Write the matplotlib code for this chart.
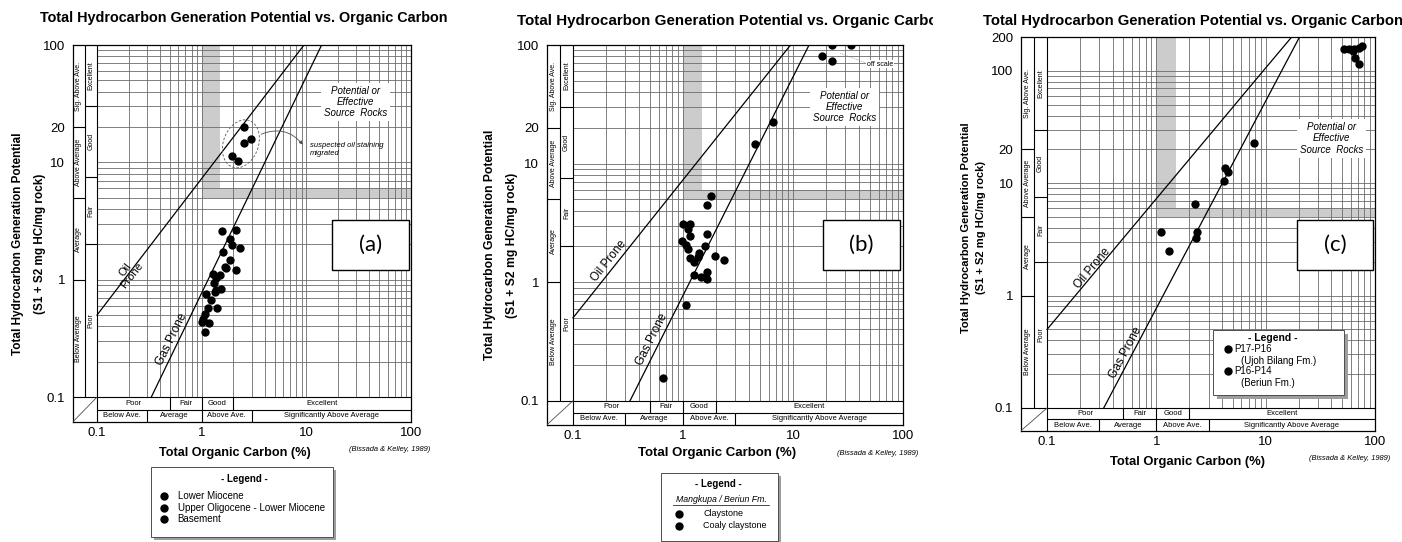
import matplotlib
matplotlib.use("Agg")
import matplotlib.pyplot as plt
import numpy as np
from matplotlib.patches import Rectangle
from matplotlib.lines import Line2D
from matplotlib.transforms import Bbox, TransformedBbox

plt.rcParams['font.family'] = ['Liberation Sans', 'DejaVu Sans']

W, H = 1402, 542

# --- data (TOC %, S1+S2 mg HC/g rock) ---
toc_a = [2.52, 2.52, 2.94, 1.95, 2.21,
         1.58, 2.14, 1.85, 1.96, 2.31, 1.60, 1.85, 1.67, 2.14, 1.28, 1.49, 1.38,
         1.30, 1.53, 1.33, 1.09, 1.24, 1.40, 1.15, 1.07, 1.03, 1.17, 1.01, 1.07,
         1.72, 1.38]
hc_a = [20.2, 14.7, 15.7, 11.3, 10.3,
        2.58, 2.63, 2.22, 1.99, 1.85, 1.74, 1.48, 1.29, 1.20, 1.11, 1.10, 1.03,
        0.93, 0.84, 0.79, 0.76, 0.67, 0.57, 0.57, 0.51, 0.46, 0.43, 0.44, 0.36,
        1.27, 0.82]

toc_b = [1.81, 1.67, 1.00, 1.16, 1.12, 1.17, 1.64, 0.97, 1.06, 1.12, 1.57,
         1.41, 1.16, 1.37, 1.25, 1.94, 2.38, 1.25, 1.46, 1.64, 1.65, 1.06, 0.66,
         18.5, 22.4, 22.7, 33.5, 6.6, 4.5]
hc_b = [5.37, 4.48, 3.09, 3.09, 2.80, 2.43, 2.54, 2.22, 2.05, 1.92, 2.02,
        1.75, 1.60, 1.63, 1.48, 1.65, 1.54, 1.14, 1.10, 1.22, 1.06, 0.64, 0.155,
        80, 72.8, 100, 100, 22.5, 14.5]

toc_c = [7.9, 4.22, 4.53, 4.19, 2.26, 1.11, 2.34, 2.29, 1.30,
         51.8, 57.7, 64.1, 71.3, 76.0, 62.8, 65.5, 71.8]
hc_c = [22.8, 13.6, 12.6, 10.5, 6.57, 3.7, 3.7, 3.28, 2.48,
        155, 158, 155, 160, 165, 151, 129, 114]

# boundary lines of the Bissada & Kelley (1989) diagram
oil_toc = [0.1, 9.5, 17.3]
oil_hc = [0.5, 100, 200]
gas_toc = [0.33, 14, 20.4]
gas_hc = [0.1, 100, 200]

# classification strips
hc_outer_labels = ['Below Average', 'Average', 'Above Average', 'Sig. Above Ave.']
hc_outer_bounds = [0.1, 1, 5, 20]
hc_inner_labels = ['Poor', 'Fair', 'Good', 'Excellent']
hc_inner_bounds = [0.1, 2, 7.5, 30]
toc_top_labels = ['Poor', 'Fair', 'Good', 'Excellent']
toc_top_bounds = [0.1, 0.5, 1, 2]
toc_bot_labels = ['Below Ave.', 'Average', 'Above Ave.', 'Significantly Above Average']
toc_bot_bounds = [0.1, 0.3, 1, 3]

TITLE = 'Total Hydrocarbon Generation Potential vs. Organic Carbon'


def fx(x):
    return x / W


def fy(y):
    return 1 - y / H


fig = plt.figure(figsize=(W / 100, H / 100), dpi=100)


def make_ax(l, t, r, b):
    return fig.add_axes([fx(l), fy(b), (r - l) / W, (b - t) / H])


def draw_panel(ax, xl, yb, ytop, toc, hc, yticks):
    ax.set_xscale('log')
    ax.set_yscale('log')
    ax.set_xlim(xl, 100)
    ax.set_ylim(yb, ytop)
    xm = np.sqrt(xl * 0.1)
    ym = np.sqrt(yb * 0.1)

    # log grid inside the data area
    gx = [m * 10.0 ** e for e in (-1, 0, 1) for m in range(1, 10)] + [100]
    gy = [m * 10.0 ** e for e in (-1, 0, 1, 2) for m in range(1, 10)
          if m * 10.0 ** e <= ytop * 1.001]
    ax.vlines(gx, 0.1, ytop, color='0.42', lw=0.6, zorder=2)
    ax.hlines(gy, 0.1, 100, color='0.42', lw=0.6, zorder=2)

    # shaded threshold bands
    ax.fill_between([1, 1.5], 5, ytop, color='0.8', lw=0, zorder=1)
    ax.fill_between([1, 100], 5, 6, color='0.8', lw=0, zorder=1)

    k = dict(color='black', lw=0.8, zorder=3, solid_capstyle='butt')
    ax.plot([0.1, 0.1], [yb, ytop], **k)
    ax.plot([xl, 100], [0.1, 0.1], **k)
    ax.plot([xm, xm], [0.1, ytop], **k)
    ax.plot([0.1, 100], [ym, ym], **k)
    ax.plot([xl, 0.1], [yb, 0.1], color='0.3', lw=0.6, zorder=3)

    fs = 5
    b = hc_outer_bounds + [ytop]
    for i, lab in enumerate(hc_outer_labels):
        if i:
            ax.plot([xl, xm], [b[i], b[i]], **k)
        ax.text(np.sqrt(xl * xm), np.sqrt(b[i] * b[i + 1]), lab, rotation=90,
                ha='center', va='center', fontsize=fs)
    b = hc_inner_bounds + [ytop]
    for i, lab in enumerate(hc_inner_labels):
        if i:
            ax.plot([xm, 0.1], [b[i], b[i]], **k)
        ax.text(np.sqrt(xm * 0.1), np.sqrt(b[i] * b[i + 1]), lab, rotation=90,
                ha='center', va='center', fontsize=fs)
    b = toc_top_bounds + [100]
    for i, lab in enumerate(toc_top_labels):
        if i:
            ax.plot([b[i], b[i]], [ym, 0.1], **k)
        ax.text(np.sqrt(b[i] * b[i + 1]), np.sqrt(ym * 0.1), lab,
                ha='center', va='center', fontsize=5.5)
    b = toc_bot_bounds + [100]
    for i, lab in enumerate(toc_bot_labels):
        if i:
            ax.plot([b[i], b[i]], [yb, ym], **k)
        ax.text(np.sqrt(b[i] * b[i + 1]), np.sqrt(ym * yb), lab,
                ha='center', va='center', fontsize=5.5)

    ax.plot(oil_toc, oil_hc, color='black', lw=0.9, zorder=4)
    ax.plot(gas_toc, gas_hc, color='black', lw=0.9, zorder=4)
    ax.scatter(toc, hc, s=36, color='black', linewidths=0, zorder=6)

    ax.set_xticks([0.1, 1, 10, 100], ['0.1', '1', '10', '100'])
    ax.set_yticks(yticks, [('%g' % v) for v in yticks])
    ax.minorticks_off()
    ax.tick_params(axis='both', length=0, labelsize=9.5)
    ax.tick_params(axis='x', pad=3.5)
    ax.tick_params(axis='y', pad=5.5)
    for s in ax.spines.values():
        s.set_linewidth(0.9)


src_kw = dict(ha='center', va='center', fontsize=7, style='italic', linespacing=1.15,
              bbox=dict(fc='white', ec='none', pad=2), zorder=5)

# ---------------- panel (a) ----------------
ax_a = make_ax(72.7, 45, 411, 422)
draw_panel(ax_a, 0.0586, 0.0614, 100, toc_a, hc_a, [0.1, 1, 10, 20, 100])
ax_a.text(0.2, 1.15, 'Oil\nProne', rotation=52, ha='center', va='center', fontsize=8,
          linespacing=0.9, zorder=5)
ax_a.text(0.52, 0.31, 'Gas Prone', rotation=64, ha='center', va='center', fontsize=8.5,
          zorder=5)
ax_a.text(29.4, 32.6, 'Potential or\nEffective\nSource  Rocks', **src_kw)
t = np.linspace(0, 2 * np.pi, 120)
u, v = 17.5 * np.cos(t), 24.7 * np.sin(t)
th = np.radians(-20)
ax_a.plot(10 ** (np.log10(2.37) + (u * np.cos(th) - v * np.sin(th)) / 104.7),
          10 ** (np.log10(14.4) + (u * np.sin(th) + v * np.cos(th)) / 117.3),
          color='0.35', lw=0.6, ls=(0, (3, 2)), zorder=5)
ax_a.annotate('', xy=(9.6, 13.6), xytext=(3.5, 17),
              arrowprops=dict(arrowstyle='-|>', lw=0.6, color='0.3', mutation_scale=5,
                              connectionstyle='arc3,rad=-0.4'), zorder=5)
ax_a.text(10.8, 12.8, 'suspected oil staining\nmigrated', ha='left', va='center',
          fontsize=5.5, style='italic', linespacing=1.25, zorder=5)

# ---------------- panel (b) ----------------
ax_b = make_ax(546.7, 45, 903, 425)
draw_panel(ax_b, 0.0577, 0.0625, 100, toc_b, hc_b, [0.1, 1, 10, 20, 100])
ax_b.text(0.21, 1.5, 'Oil Prone', rotation=51.5, ha='center', va='center', fontsize=8.5,
          zorder=5)
ax_b.text(0.52, 0.33, 'Gas Prone', rotation=63.5, ha='center', va='center', fontsize=8.5,
          zorder=5)
ax_b.text(29.5, 30, 'Potential or\nEffective\nSource  Rocks', **src_kw)
ax_b.plot([27, 47], [85, 70], color='0.45', lw=0.5, ls=':', zorder=5)
ax_b.text(62, 69, 'off scale', ha='center', va='center', fontsize=5, zorder=5,
          bbox=dict(fc='white', ec='none', pad=0.5))

# ---------------- panel (c) ----------------
ax_c = make_ax(1021, 37, 1375, 430.7)
draw_panel(ax_c, 0.0578, 0.0628, 200, toc_c, hc_c, [0.1, 1, 10, 20, 100, 200])
ax_c.text(0.26, 1.75, 'Oil Prone', rotation=50, ha='center', va='center', fontsize=8.5,
          zorder=5)
ax_c.text(0.52, 0.31, 'Gas Prone', rotation=62, ha='center', va='center', fontsize=8.5,
          zorder=5)
ax_c.text(40, 25, 'Potential or\nEffective\nSource  Rocks', **src_kw)

# ---------------- figure level text ----------------
clip_b = TransformedBbox(Bbox.from_extents(fx(470), 0, fx(933), 1), fig.transFigure)

fig.text(fx(243.5), fy(18.3), TITLE, ha='center', va='center', fontsize=10.4,
         weight='bold')
tb = fig.text(fx(516.7), fy(20.7), TITLE, ha='left', va='center', fontsize=10.9,
              weight='bold')
tb.set_clip_box(clip_b)
tb.set_clip_on(True)
fig.text(fx(983), fy(20.7), TITLE, ha='left', va='center', fontsize=10.7, weight='bold')

for x1, x2, yc, fsz in [(18.3, 40, 244, 8.5), (490, 511.7, 245, 8.7),
                        (966, 981.5, 227.5, 8.0)]:
    fig.text(fx(x1), fy(yc), 'Total Hydrocarbon Generation Potential', rotation=90,
             ha='center', va='center', fontsize=fsz, weight='bold')
    fig.text(fx(x2), fy(yc), '(S1 + S2 mg HC/mg rock)', rotation=90,
             ha='center', va='center', fontsize=fsz, weight='bold')

for xc, yc, fsz in [(235, 453, 9.1), (716.7, 452.7, 9.5), (1188, 461.7, 9.4)]:
    fig.text(fx(xc), fy(yc), 'Total Organic Carbon (%)', ha='center', va='center',
             fontsize=fsz, weight='bold')

for xl_, yc, clip in [(349, 449.3, False), (836.7, 453.3, True), (1309, 458, False)]:
    tt = fig.text(fx(xl_), fy(yc), '(Bissada & Kelley, 1989)', ha='left', va='center',
                  fontsize=5.4, style='italic')
    if clip:
        tt.set_clip_box(clip_b)
        tt.set_clip_on(True)


def box(x0, y0, x1, y1, shadow=0, lw=0.8, ec='black'):
    if shadow:
        fig.add_artist(Rectangle((fx(x0 + shadow), fy(y1 + shadow)), (x1 - x0) / W,
                                 (y1 - y0) / H, transform=fig.transFigure,
                                 fc='0.62', ec='none', zorder=4))
    fig.add_artist(Rectangle((fx(x0), fy(y1)), (x1 - x0) / W, (y1 - y0) / H,
                             transform=fig.transFigure, fc='white', ec=ec, lw=lw,
                             zorder=5))


def dot(x, y):
    fig.add_artist(Line2D([fx(x)], [fy(y)], marker='o', markersize=5, color='black',
                          ls='none', transform=fig.transFigure, zorder=6))


def ftext(x, y, s, **kw):
    kw.setdefault('va', 'center')
    fig.text(fx(x), fy(y), s, zorder=6, **kw)


# panel labels
for x0, x1, lab in [(332.3, 409.3, '(a)'), (823.3, 900, '(b)'), (1296.7, 1373.3, '(c)')]:
    box(x0, 220, x1, 270, lw=1.0)
    ftext((x0 + x1) / 2, 245, lab, ha='center', fontsize=16, family='Lato')

# legend (a)
box(150.7, 467.3, 332.7, 537.3, shadow=3, lw=0.7, ec='0.3')
ftext(244, 479.3, '- Legend -', ha='center', fontsize=7, weight='bold')
for yy, lab in [(496, 'Lower Miocene'), (508.3, 'Upper Oligocene - Lower Miocene'),
                (519.3, 'Basement')]:
    dot(164.3, yy)
    ftext(177.7, yy, lab, ha='left', fontsize=7)

# legend (b)
box(660.7, 473.3, 778, 540.7, shadow=3, lw=0.7, ec='0.3')
ftext(718.3, 484.3, '- Legend -', ha='center', fontsize=7, weight='bold')
ftext(721, 500, 'Mangkupa / Beriun Fm.', ha='center', fontsize=6.3, style='italic')
fig.add_artist(Line2D([fx(673), fx(769)], [fy(504.5), fy(504.5)], lw=0.5, color='black',
                      transform=fig.transFigure, zorder=6))
for yy, lab in [(514, 'Claystone'), (525.7, 'Coaly claystone')]:
    dot(678.7, yy)
    ftext(703.3, yy, lab, ha='left', fontsize=6.5)

# legend (c)
box(1213.3, 330, 1344, 395, shadow=4, lw=0.7, ec='0.3')
ftext(1273, 338.3, '- Legend -', ha='center', fontsize=7.5, weight='bold')
dot(1227.7, 349.3)
ftext(1234, 349.3, 'P17-P16', ha='left', fontsize=7)
ftext(1241, 360.7, '(Ujoh Bilang Fm.)', ha='left', fontsize=7)
dot(1227.7, 371)
ftext(1234, 371, 'P16-P14', ha='left', fontsize=7)
ftext(1241, 382.7, '(Beriun Fm.)', ha='left', fontsize=7)

fig.savefig('out.png', dpi=100)
